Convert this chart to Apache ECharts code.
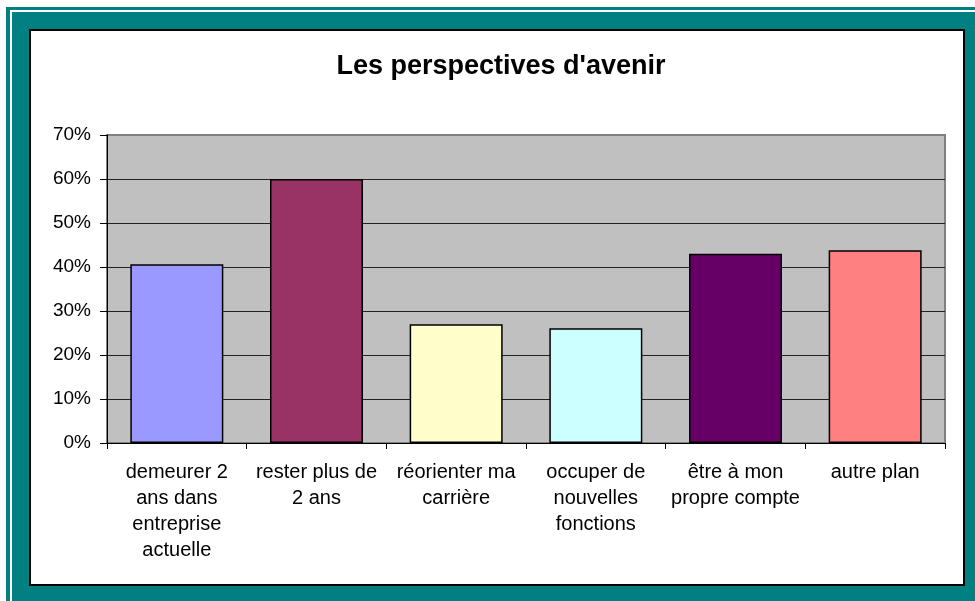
<!DOCTYPE html>
<html lang="fr">
<head>
  <meta charset="UTF-8">
  <title>Les perspectives d'avenir</title>
  <style>
    body { margin: 0; background: #fff; }
    #frame { position: absolute; left: 6px; top: 7px; width: 969px; height: 594px; background: #008080; }
    #line { position: absolute; left: 10px; top: 10px; width: 970px; height: 600px; border-left: 2px solid #fff; border-top: 2px solid #fff; }
    #panel { position: absolute; left: 29px; top: 29px; width: 936px; height: 557px; box-sizing: border-box; background: #fff; border: 2px solid #000; }
    #main { position: absolute; left: 0; top: 0; width: 975px; height: 601px; }
  </style>
</head>
<body>
  <div id="frame"></div>
  <div id="line"></div>
  <div id="panel"></div>
  <div id="main"></div>

  <script src="https://cdn.jsdelivr.net/npm/echarts@6/dist/echarts.min.js"></script>
  <script>
    // données
    var categories = [
      'demeurer 2\nans dans\nentreprise\nactuelle',
      'rester plus de\n2 ans',
      'réorienter ma\ncarrière',
      'occuper de\nnouvelles\nfonctions',
      'être à mon\npropre compte',
      'autre plan'
    ];
    var values = [0.406, 0.60, 0.27, 0.261, 0.43, 0.438];
    var barColors = ['#9999FF', '#993366', '#FFFFCC', '#CCFFFF', '#660066', '#FF8080'];

    var myChart = echarts.init(document.getElementById('main'));

    var seriesData = values.map(function (v, i) {
      return { value: v, itemStyle: { color: barColors[i] } };
    });

    var fontFam = 'Liberation Sans, Arial, sans-serif';

    myChart.setOption({
      backgroundColor: 'transparent',
      animation: false,
      textStyle: { fontFamily: fontFam },
      title: {
        text: "Les perspectives d'avenir",
        left: 496,
        textAlign: 'center',
        top: 48,
        textStyle: { fontSize: 27, fontWeight: 'bold', color: '#000', fontFamily: fontFam }
      },
      grid: {
        left: 107, top: 135, width: 838, height: 308,
        show: true,
        backgroundColor: '#C0C0C0',
        borderColor: '#808080',
        borderWidth: 2
      },
      xAxis: {
        type: 'category',
        data: categories,
        axisLine: { lineStyle: { color: '#000', width: 1 } },
        axisTick: { show: true, length: 6, lineStyle: { color: '#000' } },
        axisLabel: {
          interval: 0,
          color: '#000',
          fontSize: 20,
          lineHeight: 26,
          margin: 16
        }
      },
      yAxis: {
        type: 'value',
        min: 0,
        max: 0.7,
        interval: 0.1,
        axisLine: { show: true, lineStyle: { color: '#000', width: 1 } },
        axisTick: { show: true, length: 7, lineStyle: { color: '#000' } },
        splitLine: { show: true, showMaxLine: false, lineStyle: { color: '#222', width: 1.2 } },
        axisLabel: {
          color: '#000',
          fontSize: 19,
          margin: 16,
          formatter: function (v) { return Math.round(v * 100) + '%'; }
        }
      },
      series: [{
        type: 'bar',
        data: seriesData,
        barWidth: 93,
        itemStyle: { borderColor: '#000', borderWidth: 1.5 }
      }]
    });
  </script>
</body>
</html>
